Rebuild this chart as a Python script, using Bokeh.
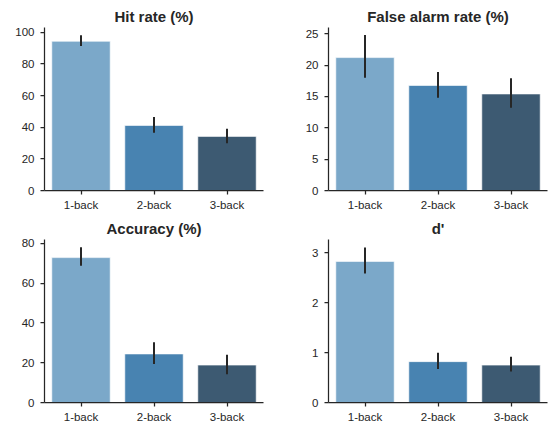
from bokeh.plotting import figure
from bokeh.layouts import gridplot
from bokeh.models import FixedTicker, Range1d, FactorRange, ColumnDataSource
from bokeh.embed import file_html
from bokeh.resources import INLINE

conditions = ["1-back", "2-back", "3-back"]
bar_colors = ["#7BA8C9", "#4883B1", "#3D5A72"]

hit_mean = [94.3, 41.1, 34.2]
hit_lo = [91.3, 36.5, 29.9]
hit_hi = [98.1, 46.4, 39.0]
hit_ticks = [0, 20, 40, 60, 80, 100]

fa_mean = [21.2, 16.75, 15.4]
fa_lo = [18.0, 14.8, 13.2]
fa_hi = [24.8, 18.9, 17.9]
fa_ticks = [0, 5, 10, 15, 20, 25]

acc_mean = [72.8, 24.4, 18.8]
acc_lo = [68.7, 19.3, 14.2]
acc_hi = [78.0, 30.3, 24.0]
acc_ticks = [0, 20, 40, 60, 80]

dp_mean = [2.83, 0.82, 0.75]
dp_lo = [2.59, 0.67, 0.62]
dp_hi = [3.11, 1.00, 0.92]
dp_ticks = [0, 1, 2, 3]

TEXT = "#262626"
FONT = "Liberation Sans"


def panel(title, mean, lo, hi, ticks, ymax, w, h, bl, br, bt, bb):
    p = figure(x_range=FactorRange(factors=conditions, range_padding=0),
               y_range=Range1d(0, ymax), width=w, height=h,
               output_backend="svg", toolbar_location=None,
               min_border_left=bl, min_border_right=br,
               min_border_top=bt, min_border_bottom=bb, title=title)
    src = ColumnDataSource(dict(cond=conditions, mean=mean, lo=lo, hi=hi,
                                color=bar_colors))
    p.vbar(x="cond", top="mean", width=0.8, fill_color="color",
           line_color="white", line_alpha=0.6, line_width=1, source=src)
    p.segment(x0="cond", y0="lo", x1="cond", y1="hi", line_color=TEXT,
              line_width=2, source=src)
    p.xgrid.visible = False
    p.ygrid.visible = False
    p.outline_line_color = None
    p.yaxis.ticker = FixedTicker(ticks=ticks)
    for ax in (p.xaxis[0], p.yaxis[0]):
        ax.axis_line_color = TEXT
        ax.axis_line_width = 1.25
        ax.major_tick_line_color = TEXT
        ax.major_tick_line_width = 1.25
        ax.major_tick_out = 4
        ax.major_tick_in = 0
        ax.minor_tick_out = 0
        ax.minor_tick_in = 0
        ax.major_label_text_font = FONT
        ax.major_label_text_font_size = "11.5px"
        ax.major_label_text_color = TEXT
    p.yaxis[0].major_label_standoff = 6
    p.xaxis[0].major_label_standoff = 4
    p.title.text_font = FONT
    p.title.text_font_size = "15px"
    p.title.text_font_style = "bold"
    p.title.text_color = TEXT
    p.title.align = "center"
    p.title.standoff = 6
    return p


p1 = panel("Hit rate (%)", hit_mean, hit_lo, hit_hi, hit_ticks, 103.0,
           278, 213, 44, 15, 27, 23)
p2 = panel("False alarm rate (%)", fa_mean, fa_lo, fa_hi, fa_ticks, 26.0,
           272, 213, 50, 3, 27, 23)
p3 = panel("Accuracy (%)", acc_mean, acc_lo, acc_hi, acc_ticks, 81.9,
           278, 212, 44, 15, 26, 23)
p4 = panel("d'", dp_mean, dp_lo, dp_hi, dp_ticks, 3.27,
           272, 212, 50, 3, 26, 23)

grid = gridplot([[p1, p2], [p3, p4]], toolbar_location=None)

open("out.html", "w").write(file_html(grid, INLINE))
